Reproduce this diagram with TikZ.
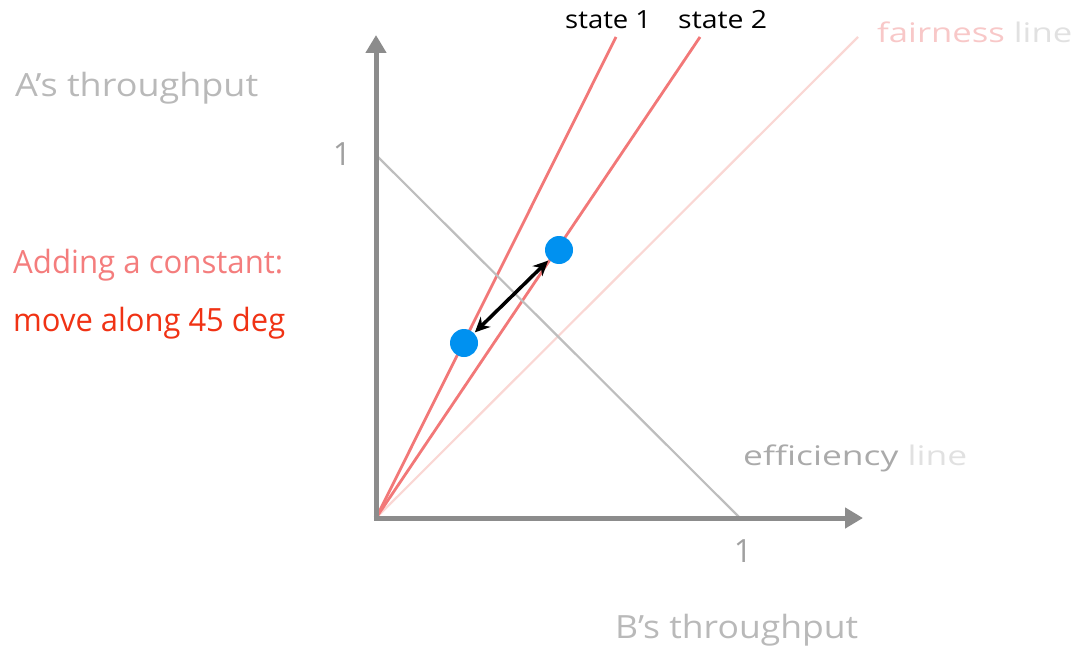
\documentclass[tikz,border=0pt]{standalone}
\usepackage{fontspec}
\usepackage{graphicx}
\setmainfont{Open Sans}
\usetikzlibrary{arrows.meta}
\definecolor{axisgray}{RGB}{140,140,140}
\definecolor{labelgray}{RGB}{185,185,185}
\definecolor{effgray}{RGB}{190,190,190}
\definecolor{onegray}{RGB}{160,160,160}
\definecolor{statered}{RGB}{242,120,120}
\definecolor{fairpink}{RGB}{250,215,212}
\definecolor{fairtxt}{RGB}{248,200,200}
\definecolor{linetxt}{RGB}{225,225,225}
\definecolor{efftxt}{RGB}{170,170,170}
\definecolor{addred}{RGB}{244,125,125}
\definecolor{movered}{RGB}{240,50,20}
\definecolor{dotblue}{RGB}{0,145,240}
\newcommand{\fitw}[2]{\resizebox{#1}{\height}{#2}}
\tikzset{
  axisline/.style={draw=axisgray, line width=5pt, -{Triangle[length=18pt,width=20pt]}},
  effline/.style={draw=effgray, line width=2.2pt},
  stateline/.style={draw=statered, line width=2.8pt},
  fairline/.style={draw=fairpink, line width=2.2pt},
  dot/.style={circle, fill=dotblue, minimum size=28pt, inner sep=0pt},
  bigtxt/.style={font=\fontsize{32}{36}\selectfont, inner sep=0pt, anchor=base west},
  midtxt/.style={font=\fontsize{27}{30}\selectfont, inner sep=0pt, anchor=base west},
  smalltxt/.style={font=\fontsize{25}{28}\selectfont, inner sep=0pt, anchor=base west},
  dblarrow/.style={draw=black, line width=3.5pt, {Stealth[length=15pt,width=14pt]}-{Stealth[length=15pt,width=14pt]}, shorten <=1pt, shorten >=1pt}
}
\begin{document}
\begin{tikzpicture}[x=1pt,y=-1pt]
\useasboundingbox (0,0) rectangle (1075,647);
% reference points
\coordinate (O) at (376,518);
\coordinate (Ostart) at (376,520.5);
\coordinate (Xstart) at (373.5,518);
\coordinate (ytip) at (376,35);
\coordinate (xtip) at (863,518);
\coordinate (ey) at (376,155);
\coordinate (ex) at (740,518);
\coordinate (s1) at (616,37);
\coordinate (s2) at (700,37);
\coordinate (f) at (858,37);
% lines through origin
\draw[fairline] (O) -- (f);
\draw[stateline] (O) -- (s1);
\draw[stateline] (O) -- (s2);
\draw[effline] (ey) -- (ex);
% axes
\draw[axisline] (Ostart) -- (ytip);
\draw[axisline] (Xstart) -- (xtip);
% dots
\node[dot] (d1) at (464,343) {};
\node[dot] (d2) at (559,250) {};
\draw[dblarrow] (d1) -- (d2);
% labels
\node[bigtxt, text=labelgray] (alabel) at (15,97) {\fitw{243pt}{A’s throughput}};
\node[bigtxt, text=addred] (addlabel) at (13,273) {\fitw{270pt}{Adding a constant:}};
\node[bigtxt, text=movered] (movelabel) at (13,331) {\fitw{272pt}{move along 45 deg}};
\node[smalltxt, text=black] (st1) at (565,29) {\fitw{86pt}{state 1}};
\node[smalltxt, text=black] (st2) at (678,29) {\fitw{89pt}{state 2}};
\node[midtxt] (fairlabel) at (877,43) {\fitw{195pt}{\color{fairtxt}fairness \color{linetxt}line}};
\node[midtxt] (efflabel) at (743,465) {\fitw{224pt}{\color{efftxt}efficiency \color{linetxt}line}};
\node[bigtxt, text=labelgray] (blabel) at (615,638) {\fitw{243pt}{B’s throughput}};
\node[bigtxt, text=onegray, anchor=base] (yone) at (342,166) {1};
\node[bigtxt, text=onegray, anchor=base] (xone) at (743,562) {1};
\end{tikzpicture}
\end{document}
